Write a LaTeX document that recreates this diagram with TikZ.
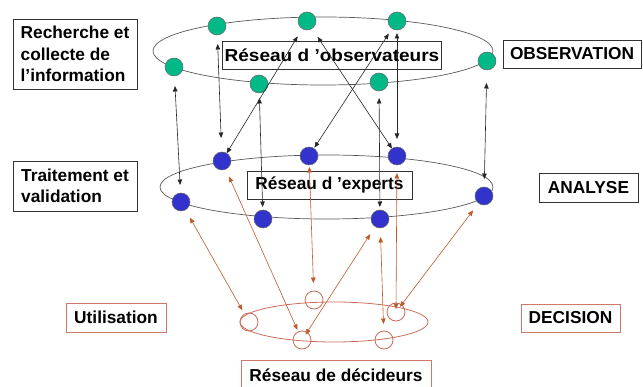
\documentclass[tikz,border=0pt]{standalone}
\usepackage{fontspec}
\setmainfont{Liberation Sans}
\usetikzlibrary{arrows.meta}
\definecolor{obsgreen}{RGB}{0,185,135}
\definecolor{expblue}{RGB}{50,50,205}
\definecolor{arrbrown}{RGB}{190,90,40}
\definecolor{decred}{RGB}{200,110,90}
\definecolor{boxred}{RGB}{205,120,105}
\begin{document}
\begin{tikzpicture}[x=1pt,y=-1pt,
  ell/.style={draw=black!65, line width=0.7pt},
  decell/.style={draw=decred, line width=0.8pt},
  gnode/.style={circle, draw=black!60, fill=obsgreen, minimum size=18pt, inner sep=0pt, outer sep=0pt, line width=0.5pt},
  bnode/.style={circle, draw=black!60, fill=expblue, minimum size=18pt, inner sep=0pt, outer sep=0pt, line width=0.5pt},
  dnode/.style={circle, draw=decred, minimum size=18pt, inner sep=0pt, outer sep=0pt, line width=0.8pt},
  lbl/.style={draw=black!80, line width=0.7pt, font=\fontsize{17.3}{21.5}\selectfont\bfseries, inner sep=2pt},
  lbox/.style={lbl, align=left, minimum width=124pt},
  blk/.style={draw=black!85, line width=0.6pt, {Triangle[length=5.5pt,width=4.5pt]}-{Triangle[length=5.5pt,width=4.5pt]}},
  brn/.style={draw=arrbrown, line width=0.6pt, {Triangle[length=5.5pt,width=4.5pt]}-{Triangle[length=5.5pt,width=4.5pt]}}
]
\useasboundingbox (0,0) rectangle (643,387);

% ellipses
\draw[ell] (323,51) ellipse [x radius=170pt, y radius=34pt];
\draw[ell] (326.5,187) ellipse [x radius=166.5pt, y radius=32pt];
\draw[decell] (334,322) ellipse [x radius=94pt, y radius=20pt];

% observers
\node[gnode] (g1) at (217,26) {};
\node[gnode] (g2) at (307,21) {};
\node[gnode] (g3) at (397,21) {};
\node[gnode] (g4) at (174,67) {};
\node[gnode] (g5) at (259,84) {};
\node[gnode] (g6) at (379,82) {};
\node[gnode] (g7) at (487,61) {};

% experts
\node[bnode] (b1) at (222,161) {};
\node[bnode] (b2) at (309,156) {};
\node[bnode] (b3) at (397,156) {};
\node[bnode] (b4) at (181,202) {};
\node[bnode] (b5) at (263,219) {};
\node[bnode] (b6) at (380,219) {};
\node[bnode] (b7) at (484,196) {};

% deciders
\node[dnode] (d1) at (249,322) {};
\node[dnode] (d2) at (314,300) {};
\node[dnode] (d3) at (302,340) {};
\node[dnode] (d4) at (396,312) {};
\node[dnode] (d5) at (384,340) {};

% labels
\node[lbox, minimum height=70pt] (rech) at (75,54) {Recherche et\\collecte de\\l’information};
\node[lbox, minimum height=50pt] (trait) at (75,186) {Traitement et\\validation};
\node[lbl, minimum width=138pt, minimum height=28pt] (obs) at (572,54) {OBSERVATION};
\node[lbl, minimum width=99pt, minimum height=29pt] (ana) at (588.5,187.5) {ANALYSE};
\node[lbl, draw=boxred, minimum width=99pt, minimum height=28pt] (dec) at (570.5,318) {DECISION};
\node[lbl, draw=boxred, minimum width=100pt, minimum height=29pt] (util) at (116,317.5) {Utilisation};
\node[lbl, minimum width=212pt, minimum height=28pt] (robs) at (332,55) {\scalebox{1.1}[1]{Réseau d ’observateurs}};
\node[lbl, minimum width=165pt, minimum height=28pt] (rexp) at (329.5,185) {Réseau d ’experts};
\node[lbl, draw=boxred, minimum width=190pt, minimum height=30pt] (rdec) at (336,375) {Réseau de décideurs};

% observers <-> experts
\draw[blk, shorten <=10pt, shorten >=8pt] (g4) -- (b4);
\draw[blk, shorten <=9pt, shorten >=14pt] (g1) -- (b1);
\draw[blk, shorten <=0pt, shorten >=9pt] (b1) -- (g2);
\draw[blk, shorten <=10pt, shorten >=0pt] (g2) -- (b3);
\draw[blk, shorten <=1pt, shorten >=6pt] (b2) -- (g3);
\draw[blk, shorten <=3pt, shorten >=8pt] (g3) -- (b3);
\draw[blk, shorten <=5pt, shorten >=3pt] (g5) -- (b5);
\draw[blk, shorten <=7pt, shorten >=3pt] (g6) -- (b6);
\draw[blk, shorten <=13pt, shorten >=8pt] (g7) -- (b7);

% experts <-> deciders
\draw[brn, shorten <=9pt, shorten >=4.5pt] (b4) -- (d1);
\draw[brn, shorten <=8pt, shorten >=2pt] (b1) -- (d3);
\draw[brn, shorten <=2pt, shorten >=8pt] (b2) -- (d2);
\draw[brn, shorten <=-2.5pt, shorten >=9pt] (d3) -- (b6);
\draw[brn, shorten <=9pt, shorten >=7pt] (b6) -- (d5);
\draw[brn, shorten <=8pt, shorten >=-6pt] (b3) -- (d4);
\draw[brn, shorten <=9pt, shorten >=-2.5pt] (b7) -- (d4);
\end{tikzpicture}
\end{document}
